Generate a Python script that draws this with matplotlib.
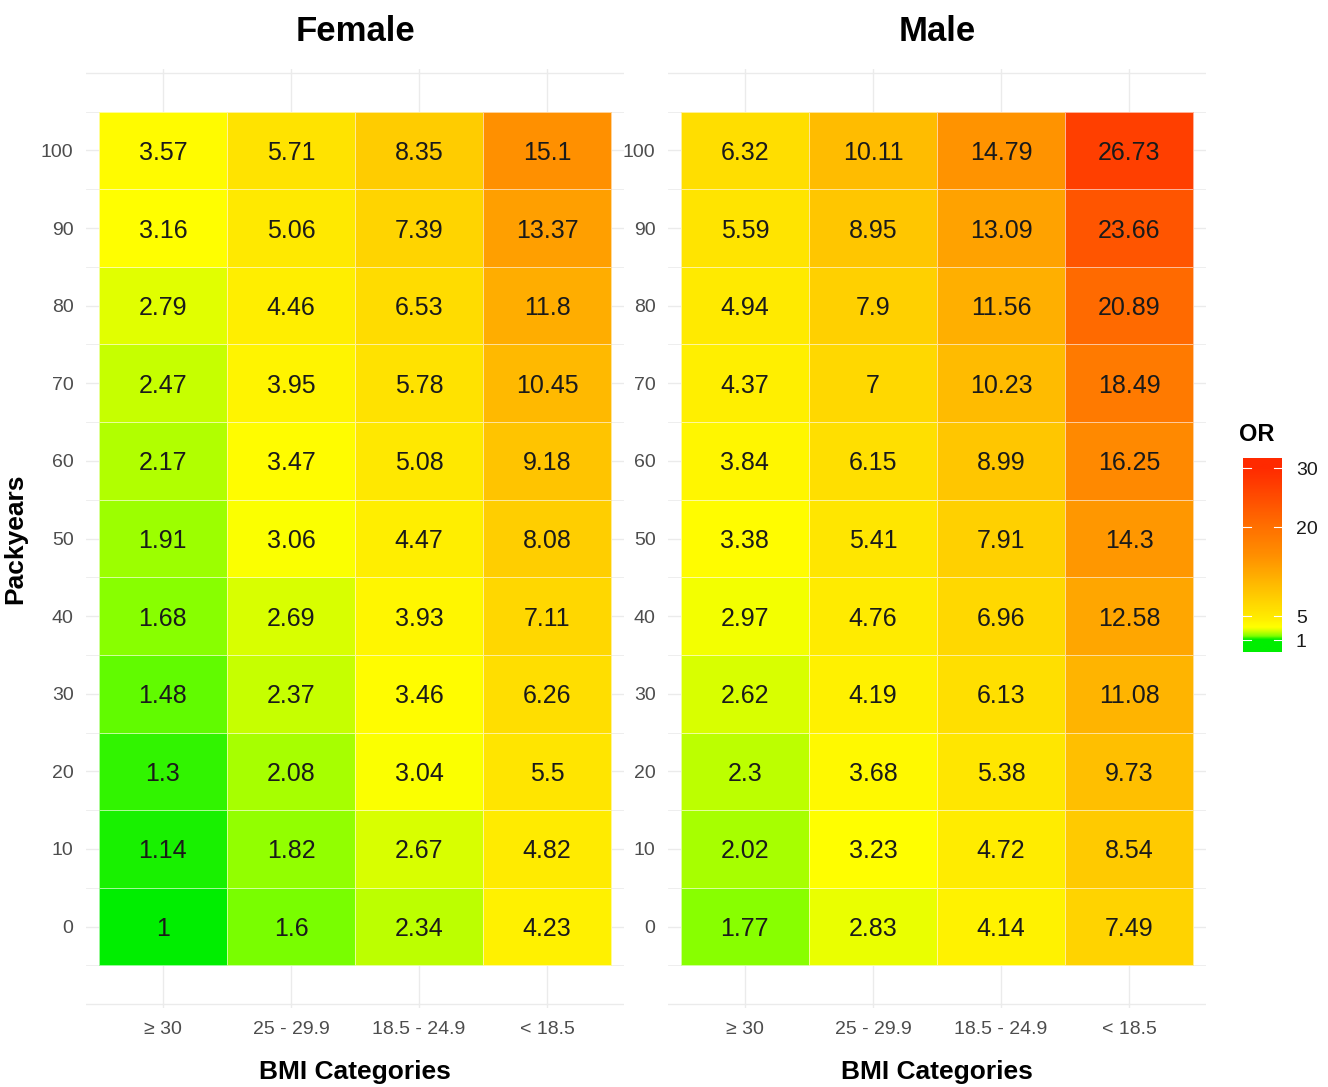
import numpy as np
import matplotlib
matplotlib.use("Agg")
import matplotlib.pyplot as plt
from matplotlib.colors import LinearSegmentedColormap, Normalize

plt.rcParams['font.family'] = ['Liberation Sans', 'DejaVu Sans']

# BMI categories (columns) and pack-years (rows, bottom to top)
bmi_cats = ['\u2265 30', '25 - 29.9', '18.5 - 24.9', '< 18.5']
packyears = [0, 10, 20, 30, 40, 50, 60, 70, 80, 90, 100]

# odds ratios, one list per BMI category, ordered by packyears 0..100
female_bmi30 = [1, 1.14, 1.3, 1.48, 1.68, 1.91, 2.17, 2.47, 2.79, 3.16, 3.57]
female_bmi25 = [1.6, 1.82, 2.08, 2.37, 2.69, 3.06, 3.47, 3.95, 4.46, 5.06, 5.71]
female_bmi18 = [2.34, 2.67, 3.04, 3.46, 3.93, 4.47, 5.08, 5.78, 6.53, 7.39, 8.35]
female_under = [4.23, 4.82, 5.5, 6.26, 7.11, 8.08, 9.18, 10.45, 11.8, 13.37, 15.1]

male_bmi30 = [1.77, 2.02, 2.3, 2.62, 2.97, 3.38, 3.84, 4.37, 4.94, 5.59, 6.32]
male_bmi25 = [2.83, 3.23, 3.68, 4.19, 4.76, 5.41, 6.15, 7, 7.9, 8.95, 10.11]
male_bmi18 = [4.14, 4.72, 5.38, 6.13, 6.96, 7.91, 8.99, 10.23, 11.56, 13.09, 14.79]
male_under = [7.49, 8.54, 9.73, 11.08, 12.58, 14.3, 16.25, 18.49, 20.89, 23.66, 26.73]

cbar_ticks = [1, 5, 20, 30]

vmin, vmax = 1, 30
anchors = [(1, '#00EE00'), (1.6, '#80FF00'), (2.34, '#C4FF00'), (2.79, '#E8FF00'),
           (3.1, '#FFFF00'), (3.57, '#FFFA00'), (4.23, '#FFF000'),
           (15.1, '#FF9000'), (20.89, '#FF6A00'), (26.73, '#FF4000'), (30, '#FF2A00')]
cmap = LinearSegmentedColormap.from_list(
    'or', [((v - vmin) / (vmax - vmin), c) for v, c in anchors])
norm = Normalize(vmin, vmax)

W, H = 1328, 1087
fig = plt.figure(figsize=(W / 100, H / 100), dpi=100)

grid_col = '#EBEBEB'
tick_col = '#4D4D4D'


def panel(left_px, cols, title, ylabel):
    ax = fig.add_axes([left_px / W, 1 - 1008 / H, 538 / W, (1008 - 69) / H])
    Z = np.array(cols).T  # rows = packyears
    xe = np.arange(0.5, len(bmi_cats) + 1, 1.0)
    ye = np.arange(-5, 110, 10)
    for y in np.arange(-10, 111, 5):
        ax.axhline(y, color=grid_col, lw=1.0 if y % 10 == 0 else 0.6, zorder=0)
    for x in range(1, len(bmi_cats) + 1):
        ax.axvline(x, color=grid_col, lw=1.0, zorder=0)
    ax.pcolormesh(xe, ye, Z, cmap=cmap, norm=norm, edgecolor=(1, 1, 1, 0.6),
                  linewidth=0.6, zorder=1)
    for i, py in enumerate(packyears):
        for j in range(len(bmi_cats)):
            ax.text(j + 1, py, '{:g}'.format(Z[i, j]), ha='center',
                    va='center_baseline', fontsize=18, color='#1A1A1A', zorder=2)
    ax.set_xlim(0.4, 4.6)
    ax.set_ylim(-10.5, 110.5)
    ax.set_xticks(range(1, len(bmi_cats) + 1))
    ax.set_xticklabels(bmi_cats)
    ax.set_yticks(packyears)
    ax.tick_params(length=0, labelsize=14, labelcolor=tick_col)
    ax.tick_params(axis='x', pad=9)
    ax.tick_params(axis='y', pad=9)
    for s in ax.spines.values():
        s.set_visible(False)
    ax.set_title(title, fontsize=25, fontweight='bold', pad=20)
    ax.set_xlabel('BMI Categories', fontsize=19, fontweight='bold', labelpad=16)
    if ylabel:
        ax.set_ylabel(ylabel, fontsize=19, fontweight='bold', labelpad=10)
    return ax


panel(86, [female_bmi30, female_bmi25, female_bmi18, female_under], 'Female', 'Packyears')
panel(668, [male_bmi30, male_bmi25, male_bmi18, male_under], 'Male', None)

# colour bar for the odds ratio
cax = fig.add_axes([1243 / W, 1 - 652 / H, 39 / W, 194 / H])
lo, hi = -1.0, 31.7
grad = np.linspace(lo, hi, 300)[:, None]
cax.imshow(grad, extent=[0, 1, lo, hi], origin='lower', aspect='auto',
           cmap=cmap, norm=norm)
cax.set_xlim(0, 1)
cax.set_ylim(lo, hi)
cax.set_xticks([])
cax.yaxis.tick_right()
cax.set_yticks(cbar_ticks)
cax.tick_params(axis='y', length=0, labelsize=14, labelcolor='#1A1A1A', pad=10)
for t in cbar_ticks:
    cax.plot([0, 0.2], [t, t], color='white', lw=0.8)
    cax.plot([0.8, 1], [t, t], color='white', lw=0.8)
for s in cax.spines.values():
    s.set_visible(False)
cax.set_title('OR', fontsize=17, fontweight='bold', loc='left', pad=12, x=-0.1)

fig.savefig('out.png', dpi=100)
